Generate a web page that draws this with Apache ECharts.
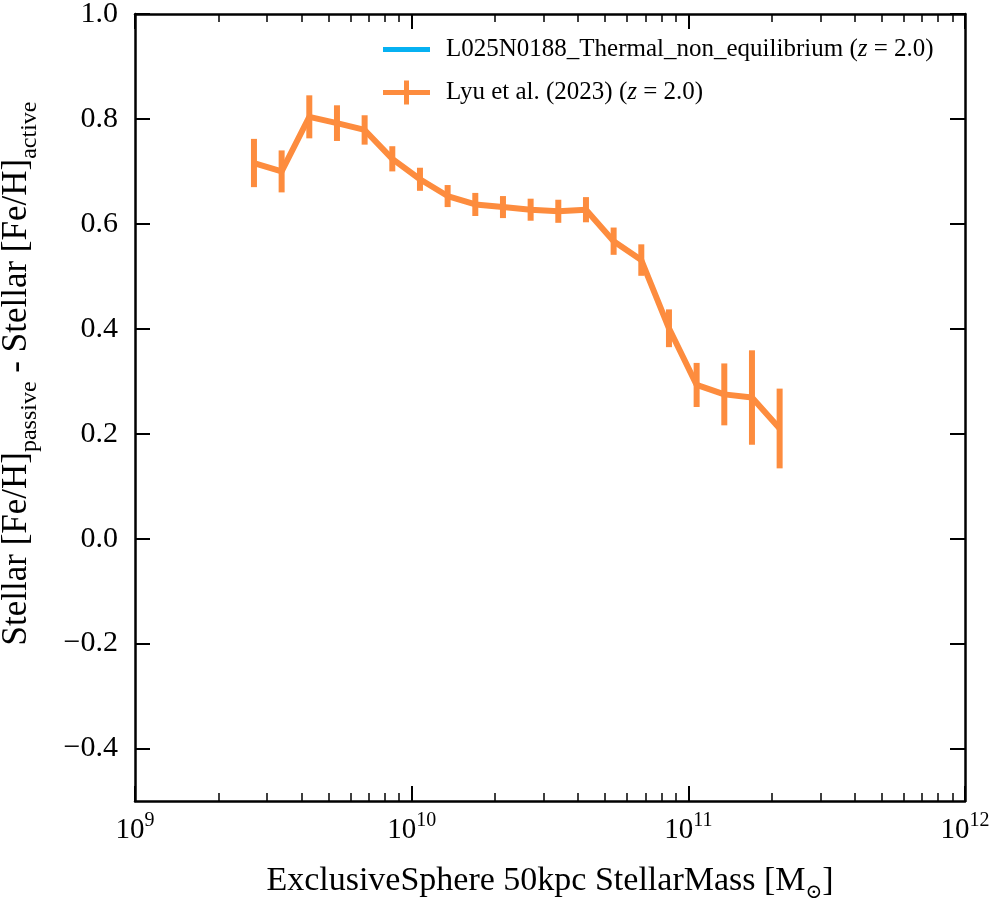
<!DOCTYPE html>
<html>
<head>
<meta charset="utf-8">
<script src="https://cdn.jsdelivr.net/npm/echarts@6/dist/echarts.min.js"></script>
<style>
  html, body { margin: 0; padding: 0; background: #fff; }
  #cn { width: 996px; height: 900px; }
</style>
</head>
<body>
<div id="cn"></div>
<script>
'use strict';

// log10 stellar mass bin centres [M_sun]
const logMass = [9.43, 9.53, 9.63, 9.73, 9.83, 9.93, 10.03, 10.13, 10.23, 10.33,
    10.43, 10.53, 10.63, 10.73, 10.83, 10.93, 11.03, 11.13, 11.23, 11.33];
// [Fe/H]_passive - [Fe/H]_active, Lyu et al. (2023)
const fehDiff = [0.716, 0.700, 0.804, 0.792, 0.779, 0.724, 0.685, 0.653, 0.637, 0.632,
    0.627, 0.624, 0.627, 0.567, 0.531, 0.401, 0.293, 0.275, 0.269, 0.210];
const fehErr = [0.046, 0.040, 0.041, 0.034, 0.028, 0.024, 0.022, 0.021, 0.022, 0.021,
    0.021, 0.022, 0.024, 0.026, 0.030, 0.036, 0.042, 0.059, 0.090, 0.076];
// simulation run has no points in this panel
const simMass = [];
const simFeh = [];

const yTicks = [-0.4, -0.2, 0.0, 0.2, 0.4, 0.6, 0.8, 1.0];
const xTicks = [1e9, 1e10, 1e11, 1e12];

const SIM_NAME = 'L025N0188_Thermal_non_equilibrium';
const OBS_NAME = 'Lyu et al. (2023)';
const ORANGE = '#fd8c3e';
const BLUE = '#06b1f2';
const FONT = '"Liberation Serif", "DejaVu Serif", serif';

let minorTicks = [];
for (let d = 9; d < 12; d++) {
    for (let k = 2; k < 10; k++) {
        minorTicks.push(k * Math.pow(10, d));
    }
}

const obsLine = logMass.map((lm, i) => [Math.pow(10, lm), fehDiff[i]]);
const obsBars = logMass.map((lm, i) => [Math.pow(10, lm), fehDiff[i] - fehErr[i], fehDiff[i] + fehErr[i]]);
const simLine = simMass.map((m, i) => [m, simFeh[i]]);

const baseX = (pos, extra) => Object.assign({
    type: 'log',
    logBase: 10,
    min: 1e9,
    max: 1e12,
    position: pos,
    splitLine: { show: false },
    axisLine: { show: false, onZero: false },
    axisLabel: { show: false },
    axisTick: { show: false }
}, extra);

const tickStyle = { color: '#000', width: 2 };
const minorStyle = { color: '#000', width: 1.5 };

const option = {
    animation: false,
    textStyle: { fontFamily: FONT },
    grid: { left: 135, right: 31, top: 14, bottom: 99, containLabel: false, outerBoundsMode: 'none' },
    legend: {
        orient: 'vertical',
        left: 378,
        top: 32,
        itemWidth: 47,
        itemHeight: 24,
        itemGap: 18,
        symbolKeepAspect: true,
        selectedMode: false,
        data: [
            { name: SIM_NAME, icon: 'path://M0,0H47V5H0Z', itemStyle: { color: BLUE } },
            { name: OBS_NAME, icon: 'path://M0,9.5H47V14.5H0Z M21,0H26V24H21Z', itemStyle: { color: ORANGE } }
        ],
        formatter: name => (name === SIM_NAME)
            ? `{n|${SIM_NAME} (}{i|z}{n| = 2.0)}`
            : `{n|${OBS_NAME} (}{i|z}{n| = 2.0)}`,
        textStyle: {
            padding: [0, 0, 0, 11],
            rich: {
                n: { fontFamily: FONT, fontSize: 25, color: '#000' },
                i: { fontFamily: FONT, fontSize: 25, fontStyle: 'italic', color: '#000' }
            }
        }
    },
    xAxis: [
        baseX('bottom', {
            name: '{n|ExclusiveSphere 50kpc StellarMass [M}{s|⊙}{n|]}',
            nameLocation: 'middle',
            nameGap: 58,
            nameTextStyle: {
                rich: {
                    n: { fontFamily: FONT, fontSize: 34, color: '#000', lineHeight: 44 },
                    s: { fontFamily: '"DejaVu Serif", serif', fontSize: 20, color: '#000', lineHeight: 30, verticalAlign: 'bottom' }
                }
            },
            axisLine: { show: true, onZero: false, lineStyle: { color: '#000', width: 2.5 } },
            axisTick: { show: true, inside: true, length: 15, lineStyle: tickStyle, customValues: xTicks },
            axisLabel: {
                show: true,
                margin: 10,
                customValues: xTicks,
                formatter: v => `{b|10}{s|${Math.round(Math.log10(v))}}`,
                rich: {
                    b: { fontFamily: FONT, fontSize: 29, color: '#000', lineHeight: 38 },
                    s: { fontFamily: FONT, fontSize: 20, color: '#000', lineHeight: 20, verticalAlign: 'top' }
                }
            }
        }),
        baseX('bottom', {
            axisTick: { show: true, inside: true, length: 8, lineStyle: minorStyle, customValues: minorTicks }
        }),
        baseX('top', {
            axisLine: { show: true, onZero: false, lineStyle: { color: '#000', width: 2.5 } },
            axisTick: { show: true, inside: true, length: 15, lineStyle: tickStyle, customValues: xTicks }
        }),
        baseX('top', {
            axisTick: { show: true, inside: true, length: 8, lineStyle: minorStyle, customValues: minorTicks }
        })
    ],
    yAxis: [
        {
            type: 'value',
            min: -0.5,
            max: 1.0,
            position: 'left',
            name: '{n|Stellar [Fe/H]}{s|passive}{n| - Stellar [Fe/H]}{s|active}',
            nameLocation: 'middle',
            nameRotate: 90,
            nameGap: 93,
            nameTextStyle: {
                padding: [0, 0, 0, 68],
                rich: {
                    n: { fontFamily: FONT, fontSize: 35, color: '#000', lineHeight: 50 },
                    s: { fontFamily: FONT, fontSize: 24, color: '#000', lineHeight: 24, verticalAlign: 'bottom' }
                }
            },
            splitLine: { show: false },
            axisLine: { show: true, onZero: false, lineStyle: { color: '#000', width: 2.5 } },
            axisTick: { show: true, inside: true, length: 15, lineStyle: tickStyle, customValues: yTicks },
            axisLabel: {
                margin: 17,
                customValues: yTicks,
                fontFamily: FONT,
                fontSize: 30,
                color: '#000',
                formatter: v => v.toFixed(1).replace('-', '\u2212')
            }
        },
        {
            type: 'value',
            min: -0.5,
            max: 1.0,
            position: 'right',
            splitLine: { show: false },
            axisLine: { show: true, onZero: false, lineStyle: { color: '#000', width: 2.5 } },
            axisTick: { show: true, inside: true, length: 15, lineStyle: tickStyle, customValues: yTicks },
            axisLabel: { show: false }
        }
    ],
    series: [
        {
            name: SIM_NAME,
            type: 'line',
            data: simLine,
            symbol: 'none',
            lineStyle: { color: BLUE, width: 5 },
            itemStyle: { color: BLUE }
        },
        {
            name: OBS_NAME,
            type: 'line',
            data: obsLine,
            symbol: 'none',
            lineStyle: { color: ORANGE, width: 6 },
            itemStyle: { color: ORANGE },
            z: 3
        },
        {
            name: OBS_NAME,
            type: 'custom',
            data: obsBars,
            encode: { x: 0, y: [1, 2] },
            renderItem: (params, api) => {
                const x = api.value(0);
                const lo = api.coord([x, api.value(1)]);
                const hi = api.coord([x, api.value(2)]);
                return {
                    type: 'line',
                    shape: { x1: lo[0], y1: lo[1], x2: hi[0], y2: hi[1] },
                    style: { stroke: ORANGE, lineWidth: 6 }
                };
            },
            z: 4
        }
    ]
};

const chart = echarts.init(document.getElementById('cn'));
chart.setOption(option);
</script>
</body>
</html>
